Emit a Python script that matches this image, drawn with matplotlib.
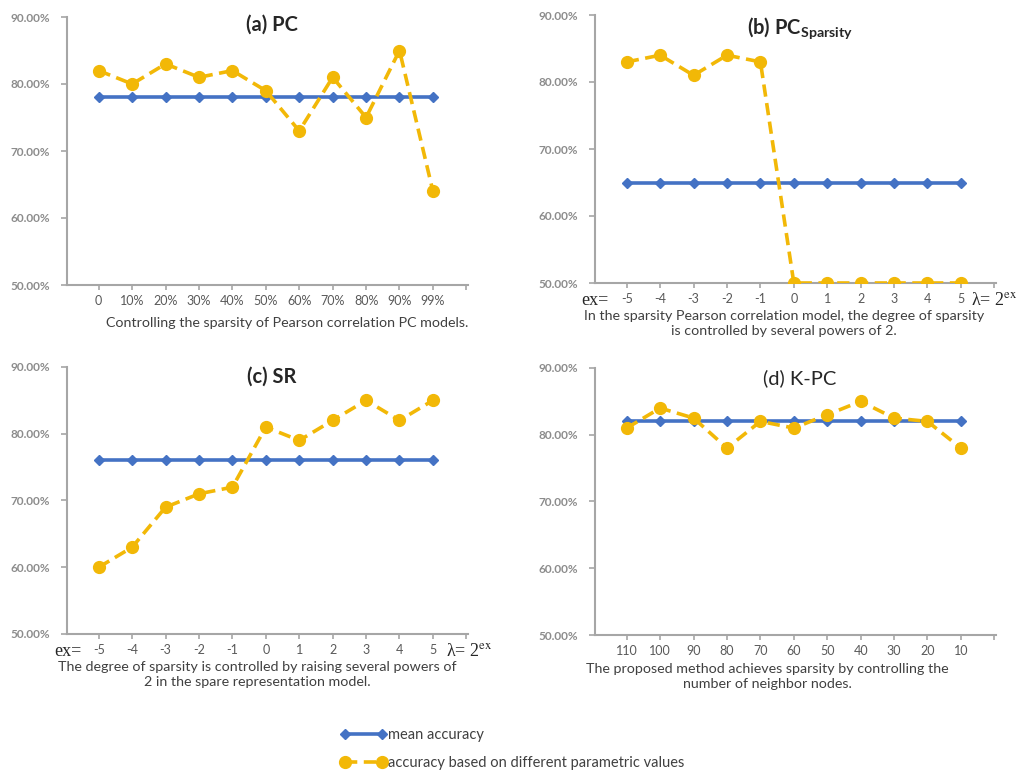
import matplotlib
matplotlib.use('Agg')
import matplotlib.pyplot as plt

plt.rcParams['font.family'] = ['Lato', 'DejaVu Sans']
plt.rcParams['mathtext.fontset'] = 'custom'
plt.rcParams['mathtext.rm'] = 'Lato'
plt.rcParams['mathtext.bf'] = 'Lato:bold'

# data
labels_a = ['0', '10%', '20%', '30%', '40%', '50%', '60%', '70%', '80%', '90%', '99%']
mean_a = [78] * 11
acc_a = [82, 80, 83, 81, 82, 79, 73, 81, 75, 85, 64]

labels_b = ['-5', '-4', '-3', '-2', '-1', '0', '1', '2', '3', '4', '5']
mean_b = [65] * 11
acc_b = [83, 84, 81, 84, 83, 50, 50, 50, 50, 50, 50]

labels_c = ['-5', '-4', '-3', '-2', '-1', '0', '1', '2', '3', '4', '5']
mean_c = [76] * 11
acc_c = [60, 63, 69, 71, 72, 81, 79, 82, 85, 82, 85]

labels_d = ['110', '100', '90', '80', '70', '60', '50', '40', '30', '20', '10']
mean_d = [82] * 11
acc_d = [81, 84, 82.5, 78, 82, 81, 83, 85, 82.5, 82, 78]

BLUE = '#4472c4'
GOLD = '#f2b807'
GRAY = '#8c8c8c'

W, H = 1031, 772
fig = plt.figure(figsize=(W / 100, H / 100), dpi=100)


def px_axes(left, top, right, bottom):
    return fig.add_axes([left / W, 1 - bottom / H, (right - left) / W, (bottom - top) / H])


def panel(ax, labels, mean, acc, title, ty, bold=True):
    x = list(range(len(labels)))
    l1, = ax.plot(x, mean, color=BLUE, lw=2.6, marker='D', ms=5.5, zorder=3)
    l2, = ax.plot(x, acc, color=GOLD, lw=2.6, ls=(0, (3.4, 1.8)), marker='o', ms=8.5, zorder=4)
    ax.set_xlim(-0.95, 11.05)
    ax.set_ylim(50, 90)
    ax.set_yticks([50, 60, 70, 80, 90])
    ax.set_yticklabels(['%.2f%%' % v for v in [50, 60, 70, 80, 90]],
                       color=GRAY, fontsize=8.5, fontweight='bold')
    ax.set_xticks(list(range(12)))
    ax.set_xticklabels(labels + [''], color='#595959', fontsize=9)
    for s in ['top', 'right']:
        ax.spines[s].set_visible(False)
    for s in ['left', 'bottom']:
        ax.spines[s].set_color('#a6a6a6')
        ax.spines[s].set_linewidth(1.5)
    ax.tick_params(axis='y', length=4, color='#a6a6a6', width=1.2, pad=8)
    ax.tick_params(axis='x', length=3.5, color='#a6a6a6', width=1.2, pad=4)
    ax.text(0.51, ty, title, transform=ax.transAxes, ha='center', va='center',
            fontsize=14.5, fontweight='bold' if bold else 'normal', color='#262626')
    return l1, l2


ax_a = px_axes(67, 17, 468, 285)
ax_b = px_axes(595, 15, 996, 283)
ax_c = px_axes(67, 367, 468, 634)
ax_d = px_axes(595, 368, 996, 635)

h1, h2 = panel(ax_a, labels_a, mean_a, acc_a, '(a) PC', 0.97)
panel(ax_b, labels_b, mean_b, acc_b, r'(b) PC$_{\mathbf{Sparsity}}$', 0.95)
panel(ax_c, labels_c, mean_c, acc_c, '(c) SR', 0.963)
panel(ax_d, labels_d, mean_d, acc_d, '(d) K-PC', 0.963, bold=False)

cap = dict(ha='center', va='top', fontsize=10.3, color='#404040', linespacing=1.3)
fig.text(287 / W, 1 - 317 / H, 'Controlling the sparsity of Pearson correlation PC models.', **cap)
fig.text(784 / W, 1 - 310 / H, 'In the sparsity Pearson correlation model, the degree of sparsity\n'
         'is controlled by several powers of 2.', **cap)
fig.text(257 / W, 1 - 661 / H, 'The degree of sparsity is controlled by raising several powers of\n'
         '2 in the spare representation model.', **cap)
fig.text(767 / W, 1 - 663 / H, 'The proposed method achieves sparsity by controlling the\n'
         'number of neighbor nodes.', **cap)

# ex= / lambda annotations
ser = dict(fontsize=13, color='#262626', va='center', family='Liberation Serif')
fig.text(581 / W, 1 - 300 / H, 'ex=', **ser)
fig.text(54 / W, 1 - 652 / H, 'ex=', **ser)
fig.text(971 / W, 1 - 300 / H, r'λ= 2$^{\mathrm{ex}}$', math_fontfamily='stix', **ser)
fig.text(446 / W, 1 - 652 / H, r'λ= 2$^{\mathrm{ex}}$', math_fontfamily='stix', **ser)

fig.legend([h1, h2], ['mean accuracy', 'accuracy based on different parametric values'],
           loc='upper left', bbox_to_anchor=(327 / W, 1 - 715 / H), frameon=False,
           fontsize=10.5, handlelength=3.2, handletextpad=0.1, labelspacing=0.95,
           numpoints=2, labelcolor='#404040')

fig.savefig('out.png', dpi=100)
